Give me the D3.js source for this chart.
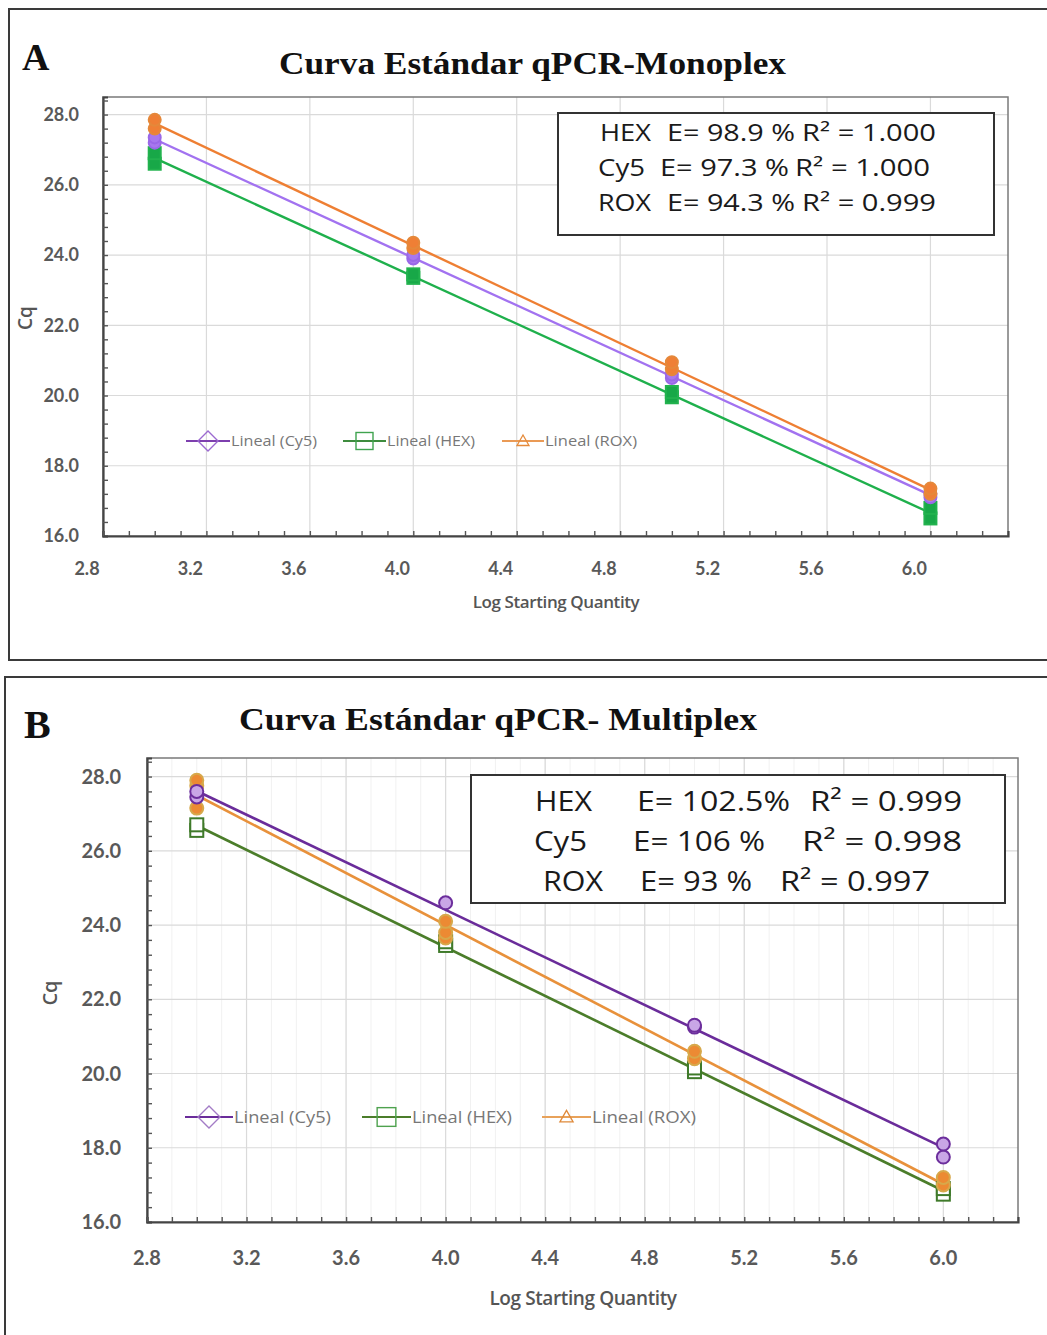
<!DOCTYPE html>
<html>
<head>
<meta charset="utf-8">
<script src="https://cdn.jsdelivr.net/npm/d3@7"></script>
<style>
  html, body { margin: 0; padding: 0; background: #fff; }
  svg { display: block; }
</style>
</head>
<body>
<svg id="chart" width="1047" height="1335"></svg>
<script>
// Dilution points (log starting quantity)
const logQty = [3, 4, 5, 6];

// Monoplex Cq replicates per dilution
const monoHEX = [[26.6, 26.9], [23.35, 23.45], [19.95, 20.1], [16.5, 16.8]];
const monoCy5 = [[27.2, 27.35], [23.9, 24.0], [20.5, 20.6], [17.1, 17.2]];
const monoROX = [[27.6, 27.85], [24.2, 24.35], [20.75, 20.95], [17.2, 17.35]];

// Multiplex Cq replicates per dilution
const multiHEX = [[26.55, 26.7], [23.45, 23.55], [20.05, 20.15], [16.75, 16.9]];
const multiCy5 = [[27.45, 27.6], [24.6], [21.25, 21.3], [17.75, 18.1]];
const multiROX = [[27.15, 27.75, 27.9], [23.65, 23.8, 24.1], [20.4, 20.6], [17.0, 17.2]];

// Axis ticks
const yTicks = [16, 18, 20, 22, 24, 26, 28];
const xTicks = [2.8, 3.2, 3.6, 4.0, 4.4, 4.8, 5.2, 5.6, 6.0];

// Efficiency / R² summaries
const monoStats = [
  { dye: "HEX", eff: "E= 98.9 %", r2: "R² = 1.000" },
  { dye: "Cy5", eff: "E= 97.3 %", r2: "R² = 1.000" },
  { dye: "ROX", eff: "E= 94.3 %", r2: "R² = 0.999" }
];
const multiStats = [
  { dye: "HEX", eff: "E= 102.5%", r2: "R² = 0.999" },
  { dye: "Cy5", eff: "E= 106 %", r2: "R² =  0.998" },
  { dye: "ROX", eff: "E= 93 %", r2: "R² = 0.997" }
];
const legendNames = ["Lineal (Cy5)", "Lineal (HEX)", "Lineal (ROX)"];

const svg = d3.select("#chart");
const fmt1 = d3.format(".1f");

function flatten(series) {
  const pts = [];
  series.forEach((reps, i) => reps.forEach(v => pts.push([logQty[i], v])));
  return pts;
}
// least-squares trend line through all replicates
function fit(pts) {
  const mx = d3.mean(pts, p => p[0]), my = d3.mean(pts, p => p[1]);
  const sxy = d3.sum(pts, p => (p[0] - mx) * (p[1] - my));
  const sxx = d3.sum(pts, p => (p[0] - mx) ** 2);
  const b = sxy / sxx;
  return x => my + b * (x - mx);
}

function drawPanel(c) {
  const g = svg.append("g");
  // frame
  g.append("rect").attr("x", c.frame[0]).attr("y", c.frame[1])
    .attr("width", c.frame[2]).attr("height", c.frame[3])
    .attr("fill", "#fff").attr("stroke", "#3a3a3a").attr("stroke-width", 2);
  // panel letter
  g.append("text").attr("x", c.letter[0]).attr("y", c.letter[1])
    .attr("font-family", "Liberation Serif, serif").attr("font-weight", "bold")
    .attr("font-size", c.letter[2]).attr("fill", "#111").text(c.letterText);
  // title
  g.append("text").attr("x", c.title[0]).attr("y", c.title[1])
    .attr("font-family", "Liberation Serif, serif").attr("font-weight", "bold")
    .attr("font-size", c.title[2]).attr("fill", "#111")
    .attr("textLength", c.title[3]).attr("lengthAdjust", "spacingAndGlyphs")
    .text(c.titleText);

  const x = d3.scaleLinear().domain([2.8, 6.3]).range([c.plot.l, c.plot.r]);
  const y = d3.scaleLinear().domain([16, 28.5]).range([c.plot.b, c.plot.t]);

  // minor vertical gridlines
  if (c.minorGrid) {
    g.append("g").selectAll("line").data(d3.range(28, 63).map(v => v / 10))
      .join("line")
      .attr("x1", d => x(d)).attr("x2", d => x(d))
      .attr("y1", c.plot.t).attr("y2", c.plot.b)
      .attr("stroke", "#f1f1f1").attr("stroke-width", 1);
  }
  // major gridlines
  g.append("g").selectAll("line").data(xTicks.slice(1)).join("line")
    .attr("x1", d => x(d)).attr("x2", d => x(d))
    .attr("y1", c.plot.t).attr("y2", c.plot.b)
    .attr("stroke", "#dadada").attr("stroke-width", 1.2);
  g.append("g").selectAll("line").data(yTicks.slice(1)).join("line")
    .attr("x1", c.plot.l).attr("x2", c.plot.r)
    .attr("y1", d => y(d)).attr("y2", d => y(d))
    .attr("stroke", "#dadada").attr("stroke-width", 1.2);

  // plot border
  g.append("rect").attr("x", c.plot.l).attr("y", c.plot.t)
    .attr("width", c.plot.r - c.plot.l).attr("height", c.plot.b - c.plot.t)
    .attr("fill", "none").attr("stroke", "#7a7a7a").attr("stroke-width", 1.5);

  // axes with inward ticks
  const yAxis = d3.axisLeft(y).tickValues(d3.range(160, 285, 4).map(v => v / 10))
    .tickSize(-5).tickFormat("");
  const ya = g.append("g").attr("transform", `translate(${c.plot.l},0)`).call(yAxis);
  const xAxis = d3.axisBottom(x).tickValues(d3.range(28, 63).map(v => v / 10))
    .tickSize(-5).tickFormat("");
  const xa = g.append("g").attr("transform", `translate(0,${c.plot.b})`).call(xAxis);
  [ya, xa].forEach(a => {
    a.select(".domain").attr("stroke", "#444").attr("stroke-width", 2.2);
    a.selectAll(".tick line").attr("stroke", "#555").attr("stroke-width", 1.4);
  });

  // tick labels
  g.append("g").selectAll("text").data(yTicks).join("text")
    .attr("x", c.yLabX).attr("y", d => y(d)).attr("dy", "0.35em")
    .attr("text-anchor", "end").attr("font-family", "Lato, sans-serif")
    .attr("font-weight", "bold").attr("font-size", c.tickFont).attr("fill", "#595959")
    .text(d => fmt1(d));
  g.append("g").selectAll("text").data(xTicks).join("text")
    .attr("x", d => x(d) + c.xLabShift).attr("y", c.xLabY).attr("dy", "0.35em")
    .attr("text-anchor", "middle").attr("font-family", "Lato, sans-serif")
    .attr("font-weight", "bold").attr("font-size", c.tickFont).attr("fill", "#595959")
    .text(d => fmt1(d));

  // axis titles
  g.append("text").attr("x", c.xTitle[0]).attr("y", c.xTitle[1]).attr("dy", "0.35em")
    .attr("text-anchor", "middle").attr("font-family", "Open Sans, sans-serif")
    .attr("font-weight", 600)
    .attr("font-size", c.xTitle[2]).attr("fill", "#555").attr("letter-spacing", "-0.4")
    .text("Log Starting Quantity");
  g.append("text")
    .attr("transform", `translate(${c.yTitle[0]},${c.yTitle[1]}) rotate(-90)`)
    .attr("text-anchor", "middle").attr("dy", "0.35em")
    .attr("font-family", "Open Sans, sans-serif").attr("font-size", c.yTitle[2])
    .attr("font-weight", 600).attr("fill", "#555").text("Cq");

  // series: trend line + replicate markers
  c.series.forEach(s => {
    const f = fit(flatten(s.data));
    g.append("line").attr("x1", x(3)).attr("x2", x(6))
      .attr("y1", y(f(3))).attr("y2", y(f(6)))
      .attr("stroke", s.line).attr("stroke-width", c.lineW);
  });
  c.series.forEach(s => {
    const pts = flatten(s.data);
    const sz = c.markSize;
    if (s.shape === "square") {
      g.append("g").selectAll("rect").data(pts).join("rect")
        .attr("x", d => x(d[0]) - sz / 2).attr("y", d => y(d[1]) - sz / 2)
        .attr("width", sz).attr("height", sz)
        .attr("fill", s.fill).attr("stroke", s.stroke).attr("stroke-width", 2);
    } else {
      g.append("g").selectAll("circle").data(pts).join("circle")
        .attr("cx", d => x(d[0])).attr("cy", d => y(d[1])).attr("r", sz / 2)
        .attr("fill", s.fill).attr("stroke", s.stroke).attr("stroke-width", 2);
    }
  });

  // legend
  c.legend.forEach((it, i) => {
    const lg = g.append("g");
    const s = c.legendStyle[i];
    lg.append("line").attr("x1", it[0]).attr("x2", it[1]).attr("y1", c.legY).attr("y2", c.legY)
      .attr("stroke", s.color).attr("stroke-width", 2.2);
    const cx = (it[0] + it[1]) / 2, m = c.legMark;
    if (i === 0) {
      lg.append("path").attr("d", `M${cx},${c.legY - m}L${cx + m},${c.legY}L${cx},${c.legY + m}L${cx - m},${c.legY}Z`)
        .attr("fill", "none").attr("stroke", s.mark).attr("stroke-width", 1.4);
    } else if (i === 1) {
      lg.append("rect").attr("x", cx - m * 0.85).attr("y", c.legY - m * 0.85)
        .attr("width", m * 1.7).attr("height", m * 1.7)
        .attr("fill", "none").attr("stroke", s.mark).attr("stroke-width", 1.4);
    } else {
      lg.append("path").attr("d", `M${cx},${c.legY - m * 0.6}L${cx + m * 0.6},${c.legY + m * 0.45}L${cx - m * 0.6},${c.legY + m * 0.45}Z`)
        .attr("fill", "none").attr("stroke", s.mark).attr("stroke-width", 1.3);
    }
    lg.append("text").attr("x", it[1] + 1).attr("y", c.legY).attr("dy", "0.35em")
      .attr("font-family", "Open Sans, sans-serif").attr("font-size", c.legFont)
      .attr("fill", "#777").attr("textLength", it[2] - it[1] - 1)
      .attr("lengthAdjust", "spacingAndGlyphs").text(legendNames[i]);
  });

  // stats box
  const b = c.box;
  g.append("rect").attr("x", b.x).attr("y", b.y).attr("width", b.w).attr("height", b.h)
    .attr("fill", "#fff").attr("stroke", "#333").attr("stroke-width", 2);
  c.stats.forEach((st, i) => {
    const cols = b.cols[i];
    const yy = b.rows[i];
    [[st.dye, cols[0], cols[1]], [st.eff, cols[2], cols[3]], [st.r2, cols[4], cols[5]]].forEach(t => {
      g.append("text").attr("x", t[1]).attr("y", yy).attr("dy", "0.35em")
        .attr("font-family", "Open Sans, sans-serif").attr("font-size", b.font)
        .attr("fill", "#1a1a1a").attr("textLength", t[2] - t[1])
        .attr("lengthAdjust", "spacingAndGlyphs").text(t[0]);
    });
  });
}

drawPanel({
  frame: [9, 9, 1045, 651],
  letter: [22, 70, 38], letterText: "A",
  title: [279, 74, 32, 507], titleText: "Curva Estándar qPCR-Monoplex",
  plot: { l: 103, r: 1008, t: 97, b: 536 },
  minorGrid: false,
  tickFont: 18, yLabX: 79, xLabY: 569, xLabShift: -16,
  xTitle: [556, 602, 17], yTitle: [25, 318, 19],
  lineW: 2.4, markSize: 12,
  series: [
    { data: monoHEX, line: "#1fb04c", fill: "#18a848", stroke: "#22b24e", shape: "square" },
    { data: monoCy5, line: "#a272f0", fill: "#a877ef", stroke: "#9a68e8", shape: "circle" },
    { data: monoROX, line: "#ee7f33", fill: "#ef7f35", stroke: "#e5883a", shape: "circle" }
  ],
  legend: [[186, 230, 317], [343, 386, 475], [502, 544, 637]],
  legendStyle: [
    { color: "#7d3fae", mark: "#9c6ad0" },
    { color: "#3e8c3e", mark: "#3fa34f" },
    { color: "#ea9a55", mark: "#e58a3a" }
  ],
  legY: 441, legMark: 10, legFont: 14,
  box: {
    x: 558, y: 113, w: 436, h: 122, font: 24,
    rows: [133, 168, 203],
    cols: [[600, 651, 667, 795, 802, 936], [598, 645, 660, 789, 795, 930], [598, 651, 667, 795, 802, 936]]
  },
  stats: monoStats
});

drawPanel({
  frame: [5, 677, 1044, 660],
  letter: [24, 738, 40], letterText: "B",
  title: [239, 730, 32, 518], titleText: "Curva Estándar qPCR- Multiplex",
  plot: { l: 147, r: 1018, t: 758, b: 1222 },
  minorGrid: true,
  tickFont: 20, yLabX: 121, xLabY: 1258, xLabShift: 0,
  xTitle: [583, 1298, 19], yTitle: [50, 993, 20],
  lineW: 2.6, markSize: 13,
  series: [
    { data: multiHEX, line: "#4b7d2a", fill: "#ffffff", stroke: "#3f7a2a", shape: "square" },
    { data: multiROX, line: "#e8913b", fill: "#ec8a33", stroke: "#d7a84a", shape: "circle" },
    { data: multiCy5, line: "#6a2c9a", fill: "#c9a6e6", stroke: "#6c2e9c", shape: "circle" }
  ],
  legend: [[185, 233, 331], [362, 411, 512], [542, 591, 696]],
  legendStyle: [
    { color: "#6a2c9a", mark: "#a37cc6" },
    { color: "#4b7d2a", mark: "#4ea24e" },
    { color: "#e8a25a", mark: "#e08a3a" }
  ],
  legY: 1117, legMark: 11, legFont: 16,
  box: {
    x: 471, y: 775, w: 534, h: 128, font: 28,
    rows: [801, 841, 881],
    cols: [[535, 592, 637, 790, 810, 962], [534, 587, 633, 765, 802, 962], [543, 603, 640, 752, 780, 930]]
  },
  stats: multiStats
});
</script>
</body>
</html>
